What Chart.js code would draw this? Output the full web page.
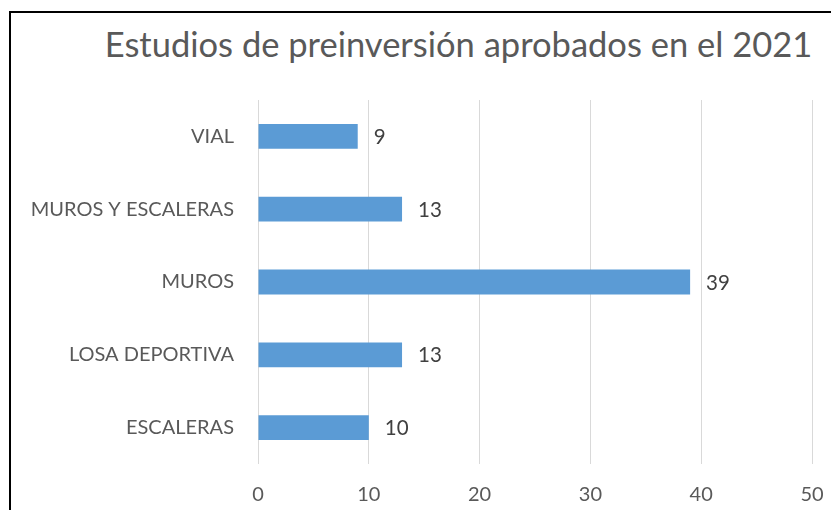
<!DOCTYPE html>
<html>
<head>
<meta charset="utf-8">
<script src="https://cdn.jsdelivr.net/npm/chart.js@4"></script>
<style>
    html, body { margin: 0; padding: 0; background: #fff; overflow: hidden; }
    #wrap { position: relative; width: 831px; height: 510px; }
    #frame {
        position: absolute; left: 9px; top: 11px; width: 900px; height: 600px;
        border-left: 2px solid #000; border-top: 2px solid #000;
    }
    #chartTitle {
        position: absolute; left: 0; top: 27px; width: 917px; text-align: center;
        font-family: Lato, "Open Sans", sans-serif; font-size: 34.5px; line-height: 34.5px;
        color: #595959; white-space: nowrap;
    }
    #barChart { position: absolute; left: 0; top: 0; }
</style>
</head>
<body>
<div id="wrap">
    <div id="frame"></div>
    <div id="chartTitle">Estudios de preinversión aprobados en el 2021</div>
    <canvas id="barChart" width="831" height="510"></canvas>
</div>
<script>
const categories = ["VIAL", "MUROS Y ESCALERAS", "MUROS", "LOSA DEPORTIVA", "ESCALERAS"];
const approvedStudies = [9, 13, 39, 13, 10];
const xTicks = [0, 10, 20, 30, 40, 50];

const FONT = "Lato, 'Open Sans', sans-serif";

// value labels at the end of each bar
const barValueLabels = {
    id: 'barValueLabels',
    afterDatasetsDraw(chart) {
        const ctx = chart.ctx;
        const meta = chart.getDatasetMeta(0);
        ctx.save();
        ctx.font = `20.5px ${FONT}`;
        ctx.fillStyle = '#404040';
        ctx.textAlign = 'left';
        ctx.textBaseline = 'middle';
        meta.data.forEach((bar, i) => {
            ctx.fillText(String(approvedStudies[i]), bar.x + 16, bar.y + 1);
        });
        ctx.restore();
    }
};

document.addEventListener("DOMContentLoaded", function() {
    const canvas = document.getElementById('barChart');
    window.studiesChart = new Chart(canvas.getContext('2d'), {
        type: 'bar',
        data: {
            labels: categories,
            datasets: [{
                label: 'Estudios',
                data: approvedStudies,
                backgroundColor: '#5B9BD5',
                borderWidth: 0,
                categoryPercentage: 1,
                barPercentage: 0.34
            }]
        },
        options: {
            indexAxis: 'y',
            responsive: false,
            animation: false,
            layout: { padding: { top: 100, right: 19, bottom: 0, left: 0 } },
            plugins: {
                legend: { display: false },
                tooltip: { enabled: false },
                title: { display: false }
            },
            scales: {
                x: {
                    type: 'linear',
                    min: xTicks[0],
                    max: xTicks[xTicks.length - 1],
                    afterBuildTicks: scale => {
                        scale.ticks = xTicks.map(v => ({ value: v }));
                    },
                    afterFit: scale => {
                        scale.height = 46;
                        scale.paddingLeft = 0;
                        scale.paddingRight = 0;
                    },
                    grid: { color: '#D9D9D9', lineWidth: 1, drawTicks: false },
                    border: { display: false },
                    ticks: {
                        padding: 19,
                        color: '#595959',
                        font: { family: FONT, size: 20 }
                    }
                },
                y: {
                    afterFit: scale => { scale.width = 258; },
                    grid: { display: false, drawTicks: false },
                    border: { display: false },
                    ticks: {
                        padding: 24,
                        color: '#595959',
                        font: { family: FONT, size: 20 }
                    }
                }
            }
        },
        plugins: [barValueLabels]
    });
});
</script>
</body>
</html>
